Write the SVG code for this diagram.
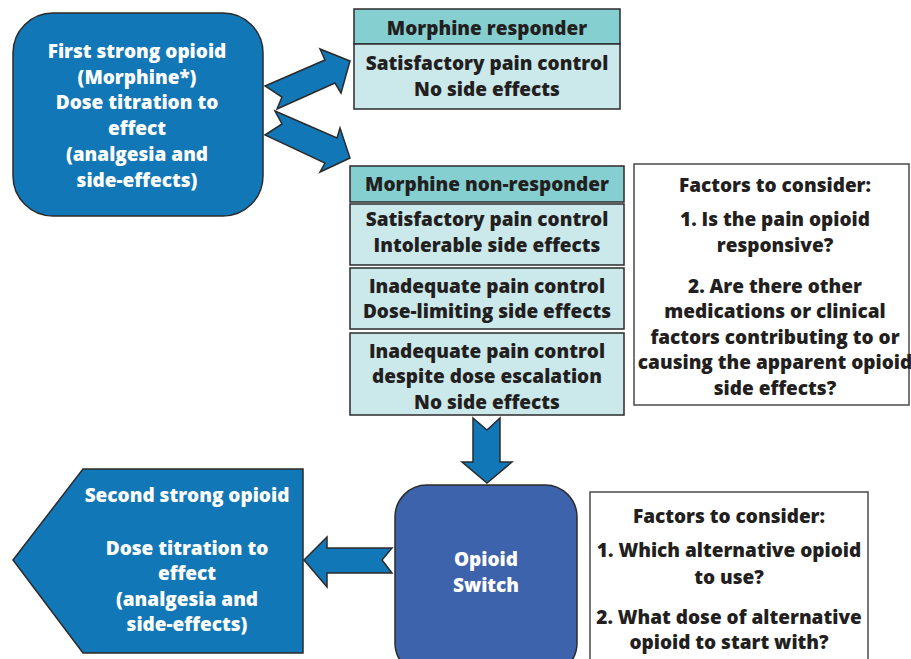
<svg xmlns="http://www.w3.org/2000/svg" width="911" height="659" viewBox="0 0 911 659">
<style>
  .t{font-family:"Open Sans",Lato,"Liberation Sans",sans-serif;font-weight:800;font-size:19px;text-anchor:middle;fill:#231f20}
  .w{fill:#ffffff}
  .stk{stroke:#2b2b2b;stroke-width:1.5}
  .blue{fill:#1277b6}
  .hdr{fill:#86cfd1}
  .body{fill:#cbe8eb}
  .wbox{fill:#ffffff;stroke:#4a4a4a;stroke-width:1.5}
</style>
<rect width="911" height="659" fill="#ffffff"/>
<g id="connectors">
  <polygon class="blue stk" points="265,86 325,60 320,49 350,61 341,93 335,83 277,109 282,97"/>
  <polygon class="blue stk" points="275,111 337,138 340,128 350,158 320,172 325,163 265,135 282,124"/>
  <polygon class="blue stk" points="473,418 487,430 500,418 500,462 512,462 487,483 462,462 473,462"/>
  <polygon class="blue stk" points="304,560 327,537 327,548 392,548 382,560 392,573 327,573 327,587"/>
</g>
<g id="first-opioid">
  <rect class="blue stk" x="13" y="13" width="250" height="203" rx="40"/>
  <text class="t w" x="137" y="58">First strong opioid</text>
  <text class="t w" x="137" y="84">(Morphine*)</text>
  <text class="t w" x="137" y="109">Dose titration to</text>
  <text class="t w" x="137" y="135">effect</text>
  <text class="t w" x="137" y="161">(analgesia and</text>
  <text class="t w" x="137" y="187">side-effects)</text>
</g>
<g id="responder">
  <rect class="hdr stk" x="354" y="9" width="266" height="35"/>
  <rect class="body stk" x="354" y="44" width="266" height="65"/>
  <text class="t" x="487" y="35">Morphine responder</text>
  <text class="t" x="487" y="70">Satisfactory pain control</text>
  <text class="t" x="487" y="96">No side effects</text>
</g>
<g id="non-responder">
  <rect class="hdr stk" x="350" y="166" width="274" height="36"/>
  <text class="t" x="487" y="191">Morphine non-responder</text>
</g>
<g id="nr-intolerable">
  <rect class="body stk" x="350" y="204" width="274" height="61"/>
  <text class="t" x="487" y="226">Satisfactory pain control</text>
  <text class="t" x="487" y="252">Intolerable side effects</text>
</g>
<g id="nr-dose-limiting">
  <rect class="body stk" x="350" y="268" width="274" height="61"/>
  <text class="t" x="487" y="293">Inadequate pain control</text>
  <text class="t" x="487" y="318">Dose-limiting side effects</text>
</g>
<g id="nr-escalation">
  <rect class="body stk" x="350" y="333" width="274" height="82"/>
  <text class="t" x="487" y="358">Inadequate pain control</text>
  <text class="t" x="487" y="383">despite dose escalation</text>
  <text class="t" x="487" y="409">No side effects</text>
</g>
<g id="factors-1">
  <rect class="wbox" x="634" y="164" width="275" height="241"/>
  <text class="t" x="775" y="192">Factors to consider:</text>
  <text class="t" x="775" y="226">1. Is the pain opioid</text>
  <text class="t" x="775" y="252">responsive?</text>
  <text class="t" x="775" y="293">2. Are there other</text>
  <text class="t" x="775" y="318">medications or clinical</text>
  <text class="t" x="775" y="344">factors contributing to or</text>
  <text class="t" x="775" y="369">causing the apparent opioid</text>
  <text class="t" x="775" y="395">side effects?</text>
</g>
<g id="opioid-switch">
  <rect x="395" y="485" width="182" height="190" rx="32" fill="#3e63ad" stroke="#2b2b2b" stroke-width="1.5"/>
  <text class="t w" x="486" y="566">Opioid</text>
  <text class="t w" x="486" y="592">Switch</text>
</g>
<g id="factors-2">
  <rect class="wbox" x="590" y="492" width="278" height="180"/>
  <text class="t" x="729" y="523">Factors to consider:</text>
  <text class="t" x="729" y="557">1. Which alternative opioid</text>
  <text class="t" x="729" y="584">to use?</text>
  <text class="t" x="729" y="624">2. What dose of alternative</text>
  <text class="t" x="729" y="649">opioid to start with?</text>
</g>
<g id="second-opioid">
  <polygon class="blue stk" points="13,560 83,469 303,469 303,653 83,653"/>
  <text class="t w" x="187" y="502">Second strong opioid</text>
  <text class="t w" x="187" y="555">Dose titration to</text>
  <text class="t w" x="187" y="580">effect</text>
  <text class="t w" x="187" y="606">(analgesia and</text>
  <text class="t w" x="187" y="631">side-effects)</text>
</g>
</svg>
